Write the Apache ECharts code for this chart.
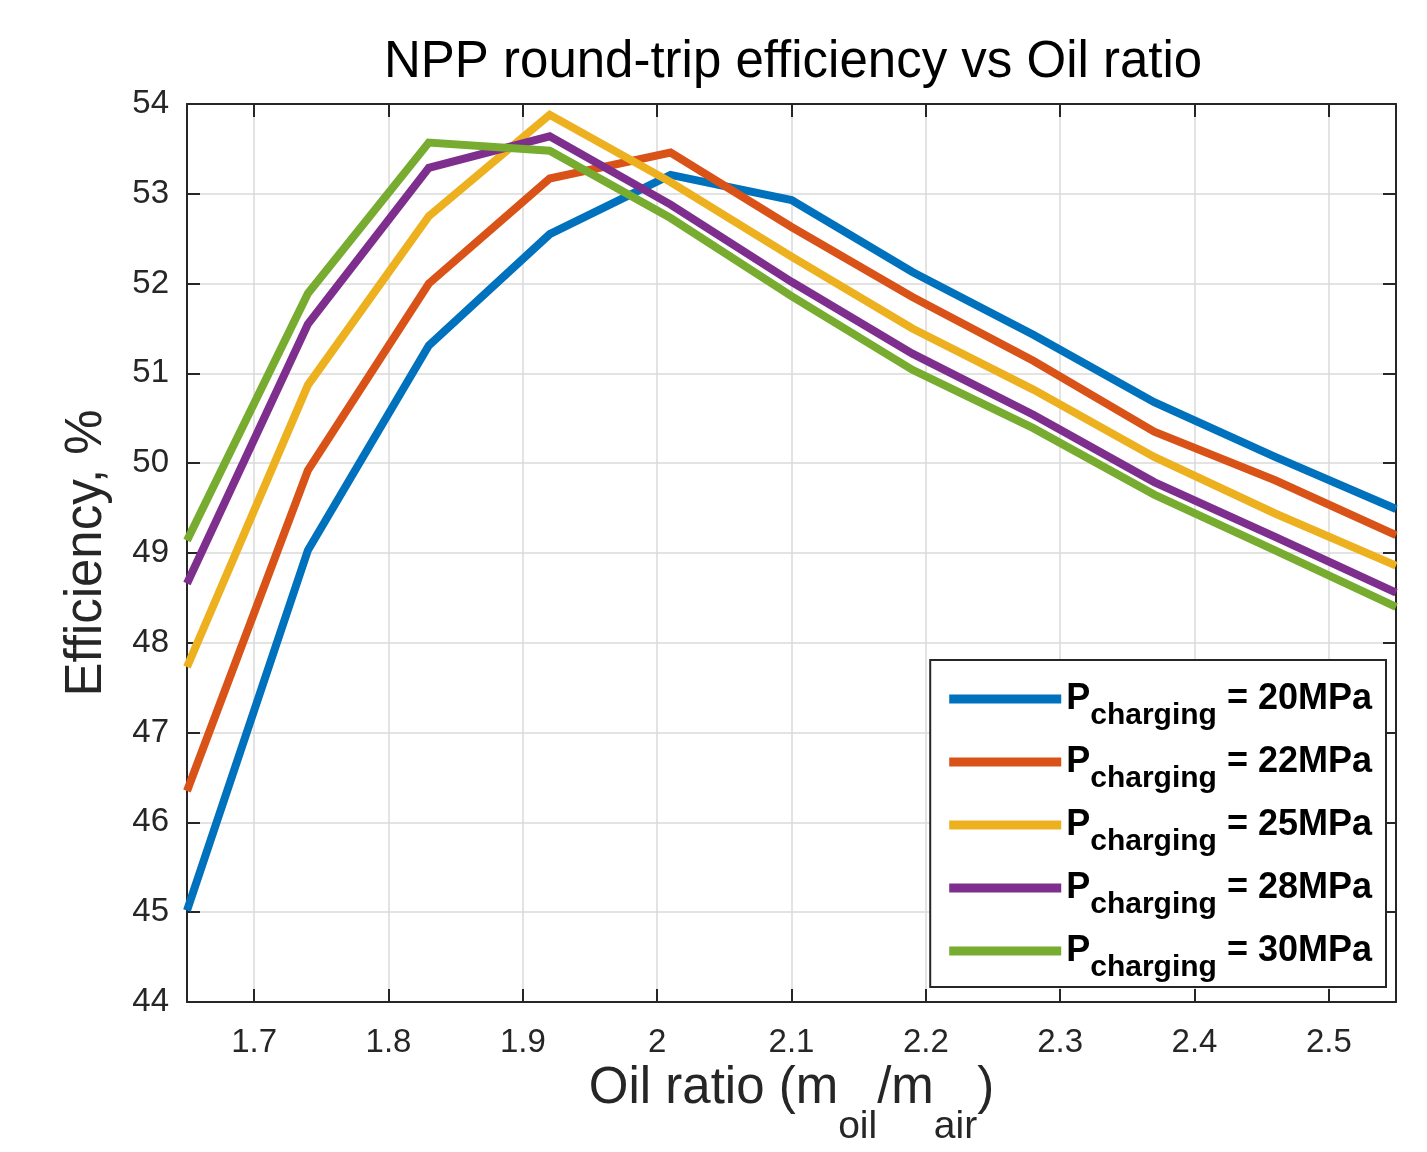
<!DOCTYPE html>
<html>
<head>
<meta charset="utf-8">
<script src="https://cdn.jsdelivr.net/npm/echarts@6/dist/echarts.min.js"></script>
<style>
  html, body { margin: 0; padding: 0; background: #fff; }
  #chart { width: 1427px; height: 1152px; }
</style>
</head>
<body>
<div id="chart"></div>
<script>
// oil ratio (m_oil / m_air)
var oilRatio = [1.65, 1.74, 1.83, 1.92, 2.01, 2.10, 2.19, 2.28, 2.37, 2.46, 2.55];
// efficiency, % for each charging pressure
var eff20 = [45.02, 49.03, 51.31, 52.55, 53.21, 52.93, 52.13, 51.43, 50.68, 50.07, 49.49];
var eff22 = [46.35, 49.92, 52.00, 53.17, 53.46, 52.63, 51.85, 51.14, 50.35, 49.81, 49.20];
var eff25 = [47.73, 50.87, 52.75, 53.88, 53.13, 52.30, 51.50, 50.82, 50.07, 49.44, 48.86];
var eff28 = [48.66, 51.55, 53.29, 53.64, 52.88, 52.02, 51.22, 50.54, 49.79, 49.18, 48.56];
var eff30 = [49.14, 51.89, 53.57, 53.48, 52.73, 51.86, 51.04, 50.39, 49.65, 49.03, 48.40];
var pressures = ["20MPa", "22MPa", "25MPa", "28MPa", "30MPa"];
var colors = ["#0072BD", "#D95319", "#EDB120", "#7E2F8E", "#77AC30"];

var font = "Liberation Sans";
var axisColor = "#262626";

var allEff = [eff20, eff22, eff25, eff28, eff30];
var series = allEff.map(function (vals, i) {
  return {
    type: "line",
    name: pressures[i],
    symbol: "none",
    lineStyle: { width: 8, color: colors[i], join: "miter" },
    itemStyle: { color: colors[i] },
    data: oilRatio.map(function (x, k) { return [x, vals[k]]; }),
  };
});

// shared axis bits (MATLAB style box with inward ticks)
var tick = { show: true, inside: true, length: 13, lineStyle: { color: axisColor, width: 2 } };
var line = { show: true, onZero: false, lineStyle: { color: axisColor, width: 2 } };
var grid = { show: true, lineStyle: { color: "#dadada", width: 1.5 } };

var chart = echarts.init(document.getElementById("chart"));
chart.setOption({
  animation: false,
  backgroundColor: "#fff",
  title: {
    text: "NPP round-trip efficiency vs Oil ratio",
    left: 384,
    top: 37,
    padding: 0,
    textStyle: { fontFamily: font, fontSize: 51, fontWeight: "normal", color: "#000" },
  },
  grid: { left: 187, right: 31, top: 104, bottom: 150 },
  legend: {
    orient: "vertical",
    right: 41,
    top: 660,
    padding: [21, 14, 4, 19],
    itemGap: 13,
    itemWidth: 112,
    itemHeight: 9,
    icon: "rect",
    selectedMode: false,
    backgroundColor: "#fff",
    borderColor: axisColor,
    borderWidth: 2,
    borderRadius: 0,
    data: pressures,
    formatter: function (name) {
      return "{p|P}{s|charging}{p| = " + name + "}";
    },
    textStyle: {
      rich: {
        p: { fontFamily: font, fontSize: 36, fontWeight: "bold", color: "#000" },
        s: { fontFamily: font, fontSize: 30, fontWeight: "bold", color: "#000", padding: [34, 0, 0, 0] },
      },
    },
  },
  xAxis: [
    {
      type: "value",
      min: 1.65,
      max: 2.55,
      splitNumber: 9,
      position: "bottom",
      name: "{a|Oil ratio (m}{s|oil}{a|/m}{s|air}{a|)}",
      nameLocation: "middle",
      nameGap: 27,
      nameTextStyle: {
        rich: {
          a: { fontFamily: font, fontSize: 51, color: axisColor },
          s: { fontFamily: font, fontSize: 39, color: axisColor, padding: [76, 0, 0, 0] },
        },
      },
      axisLine: line,
      axisTick: tick,
      splitLine: grid,
      axisLabel: {
        margin: 24,
        showMinLabel: false,
        showMaxLabel: false,
        fontFamily: font,
        fontSize: 33,
        color: axisColor,
      },
    },
    {
      type: "value",
      min: 1.65,
      max: 2.55,
      splitNumber: 9,
      position: "top",
      axisLine: line,
      axisTick: tick,
      axisLabel: { show: false },
      splitLine: { show: false },
    },
  ],
  yAxis: [
    {
      type: "value",
      min: 44,
      max: 54,
      interval: 1,
      position: "left",
      name: "Efficiency, %",
      nameLocation: "middle",
      nameGap: 75,
      nameTextStyle: { fontFamily: font, fontSize: 51, color: axisColor },
      axisLine: line,
      axisTick: tick,
      splitLine: grid,
      axisLabel: { margin: 18, fontFamily: font, fontSize: 33, color: axisColor },
    },
    {
      type: "value",
      min: 44,
      max: 54,
      interval: 1,
      position: "right",
      axisLine: line,
      axisTick: tick,
      axisLabel: { show: false },
      splitLine: { show: false },
    },
  ],
  series: series,
});
</script>
</body>
</html>
